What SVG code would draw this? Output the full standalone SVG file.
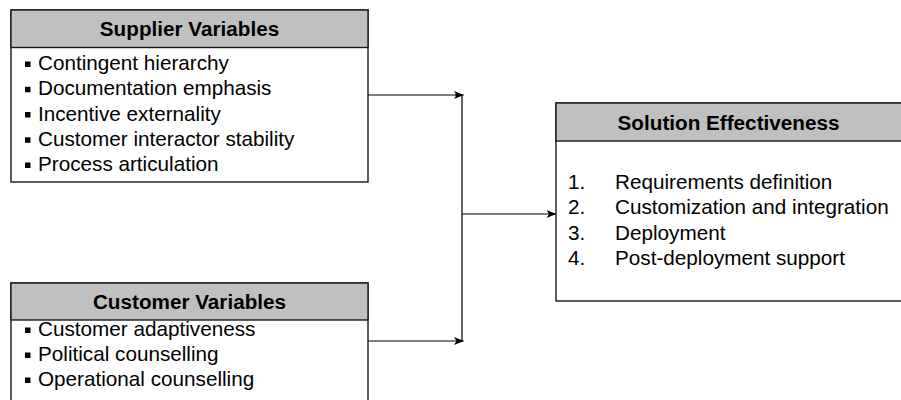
<svg xmlns="http://www.w3.org/2000/svg" width="901" height="400" viewBox="0 0 901 400">
<style>
.box{fill:#fff;stroke:#1a1a1a;stroke-width:1.4}
.hdr{fill:#c0c0c0;stroke:#1a1a1a;stroke-width:1.4}
.ht{font-family:"Liberation Sans",Arial,sans-serif;font-size:20.7px;font-weight:bold;fill:#000;text-anchor:middle}
.bt{font-family:"Liberation Sans",Arial,sans-serif;font-size:20.7px;fill:#000}
.bul{fill:#000}
.conn{fill:none;stroke:#000;stroke-width:1.2}
</style>
<defs>
<marker id="arr" markerWidth="10" markerHeight="8" refX="9.5" refY="4" orient="auto" markerUnits="userSpaceOnUse">
<path d="M0,0 L10,4 L0,8 L2.5,4 z" fill="#000"/>
</marker>
</defs>
<g id="connectors">
<polyline class="conn" points="368,95 462,95 462,341"/>
<line class="conn" x1="455" y1="95" x2="463.5" y2="95" marker-end="url(#arr)"/>
<line class="conn" x1="368" y1="341" x2="463.5" y2="341" marker-end="url(#arr)"/>
<line class="conn" x1="462" y1="214" x2="556" y2="214" marker-end="url(#arr)"/>
</g>
<g id="supplier">
<rect class="box" x="11" y="10" width="357" height="172"/>
<rect class="hdr" x="11" y="10" width="357" height="37.5"/>
<text class="ht" x="189.5" y="36">Supplier Variables</text>
<rect class="bul" x="25" y="61.5" width="5.5" height="5.5"/>
<text class="bt" x="38" y="70">Contingent hierarchy</text>
<rect class="bul" x="25" y="86.8" width="5.5" height="5.5"/>
<text class="bt" x="38" y="95.3">Documentation emphasis</text>
<rect class="bul" x="25" y="112" width="5.5" height="5.5"/>
<text class="bt" x="38" y="120.5">Incentive externality</text>
<rect class="bul" x="25" y="137.3" width="5.5" height="5.5"/>
<text class="bt" x="38" y="145.8">Customer interactor stability</text>
<rect class="bul" x="25" y="162.5" width="5.5" height="5.5"/>
<text class="bt" x="38" y="171">Process articulation</text>
</g>
<g id="customer">
<rect class="box" x="11" y="283" width="357" height="130"/>
<rect class="hdr" x="11" y="283" width="357" height="37"/>
<text class="ht" x="189.5" y="308.5">Customer Variables</text>
<rect class="bul" x="25" y="327.5" width="5.5" height="5.5"/>
<text class="bt" x="38" y="336">Customer adaptiveness</text>
<rect class="bul" x="25" y="352.5" width="5.5" height="5.5"/>
<text class="bt" x="38" y="361">Political counselling</text>
<rect class="bul" x="25" y="377.5" width="5.5" height="5.5"/>
<text class="bt" x="38" y="386">Operational counselling</text>
</g>
<g id="solution">
<rect class="box" x="556" y="103" width="350" height="198"/>
<rect class="hdr" x="556" y="103" width="350" height="38"/>
<text class="ht" x="728.5" y="129.5">Solution Effectiveness</text>
<text class="bt" x="568" y="188.5">1.</text>
<text class="bt" x="615" y="188.5">Requirements definition</text>
<text class="bt" x="568" y="214">2.</text>
<text class="bt" x="615" y="214">Customization and integration</text>
<text class="bt" x="568" y="239.5">3.</text>
<text class="bt" x="615" y="239.5">Deployment</text>
<text class="bt" x="568" y="265">4.</text>
<text class="bt" x="615" y="265">Post-deployment support</text>
</g>
</svg>
